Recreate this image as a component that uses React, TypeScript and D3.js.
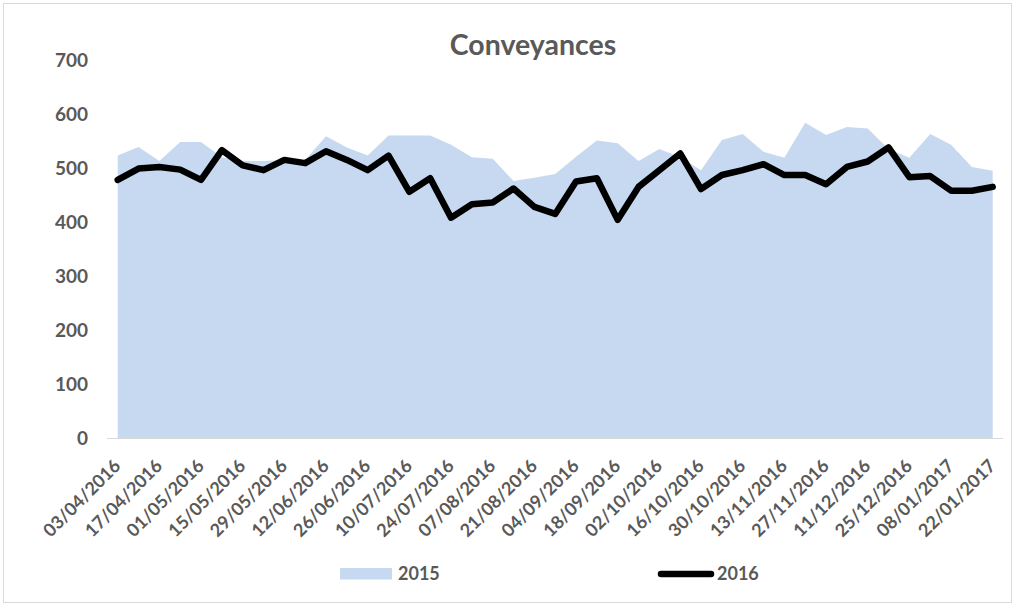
import React from "react";
import * as d3 from "d3";

const weeks: string[] = [
  "03/04/2016","10/04/2016","17/04/2016","24/04/2016","01/05/2016","08/05/2016","15/05/2016","22/05/2016",
  "29/05/2016","05/06/2016","12/06/2016","19/06/2016","26/06/2016","03/07/2016","10/07/2016","17/07/2016",
  "24/07/2016","31/07/2016","07/08/2016","14/08/2016","21/08/2016","28/08/2016","04/09/2016","11/09/2016",
  "18/09/2016","25/09/2016","02/10/2016","09/10/2016","16/10/2016","23/10/2016","30/10/2016","06/11/2016",
  "13/11/2016","20/11/2016","27/11/2016","04/12/2016","11/12/2016","18/12/2016","25/12/2016","01/01/2017",
  "08/01/2017","15/01/2017","22/01/2017",
];

const series2015: number[] = [
  523, 539, 513, 548, 548, 520, 513, 513, 515, 515, 559, 538, 523, 560, 560, 560,
  543, 520, 517, 476, 482, 489, 521, 551, 546, 513, 535, 520, 496, 552, 563, 530,
  519, 584, 561, 576, 573, 535, 519, 563, 543, 502, 495,
];

const series2016: number[] = [
  478, 499, 502, 497, 478, 533, 505, 496, 515, 509, 531, 515, 496, 523, 456, 481,
  408, 433, 436, 462, 428, 415, 475, 481, 404, 465, 496, 527, 461, 487, 496, 507,
  487, 487, 470, 502, 512, 538, 483, 485, 458, 458, 465,
];

const yTicks: number[] = [0, 100, 200, 300, 400, 500, 600, 700];
const legendLabels: string[] = ["2015", "2016"];

const W = 1016;
const H = 607;
const FONT = "Lato, 'Open Sans', sans-serif";
const GREY = "#595959";
const AREA = "#c6d9f1";

export default function App() {
  const x = d3.scaleLinear().domain([0, weeks.length - 1]).range([117.7, 992.7]);
  const y = d3.scaleLinear().domain([0, 700]).range([438, 60]);

  const area = d3
    .area<number>()
    .x((_, i) => x(i))
    .y0(y(0))
    .y1((d) => y(d));
  const line = d3
    .line<number>()
    .x((_, i) => x(i))
    .y((d) => y(d));

  const labelIdx = weeks.map((_, i) => i).filter((i) => i % 2 === 0);

  return (
    <svg width={W} height={H} style={{ display: "block", position: "absolute", left: 0, top: 0 }}>
      <rect x={0} y={0} width={W} height={H} fill="#fff" />
      <rect x={3.5} y={3.5} width={W - 8} height={H - 8} fill="none" stroke="#d9d9d9" strokeWidth={1} />
      <text x={533} y={55} textAnchor="middle" fontFamily={FONT} fontWeight={700} fontSize={28.5} fill={GREY}>
        Conveyances
      </text>
      {yTicks.map((t) => (
        <text key={t} x={88} y={y(t) + 6.5} textAnchor="end" fontFamily={FONT} fontWeight={700} fontSize={19} fill={GREY}>
          {t}
        </text>
      ))}
      <path d={area(series2015) || ""} fill={AREA} />
      <line x1={107} x2={1003} y1={y(0) + 0.5} y2={y(0) + 0.5} stroke="#d9d9d9" strokeWidth={1} />
      <path d={line(series2016) || ""} fill="none" stroke="#000" strokeWidth={6.5} strokeLinejoin="round" strokeLinecap="round" />
      {labelIdx.map((i) => (
        <text
          key={i}
          transform={`translate(${x(i) + 4},${467}) rotate(-45)`}
          textAnchor="end"
          fontFamily={FONT}
          fontWeight={700}
          fontSize={18}
          fill={GREY}
        >
          {weeks[i]}
        </text>
      ))}
      <rect x={340} y={568} width={52} height={11.5} fill={AREA} />
      <text x={398} y={580} fontFamily={FONT} fontWeight={700} fontSize={18} fill={GREY}>
        {legendLabels[0]}
      </text>
      <line x1={661} x2={711} y1={574} y2={574} stroke="#000" strokeWidth={6.5} strokeLinecap="round" />
      <text x={717} y={580} fontFamily={FONT} fontWeight={700} fontSize={18} fill={GREY}>
        {legendLabels[1]}
      </text>
    </svg>
  );
}
